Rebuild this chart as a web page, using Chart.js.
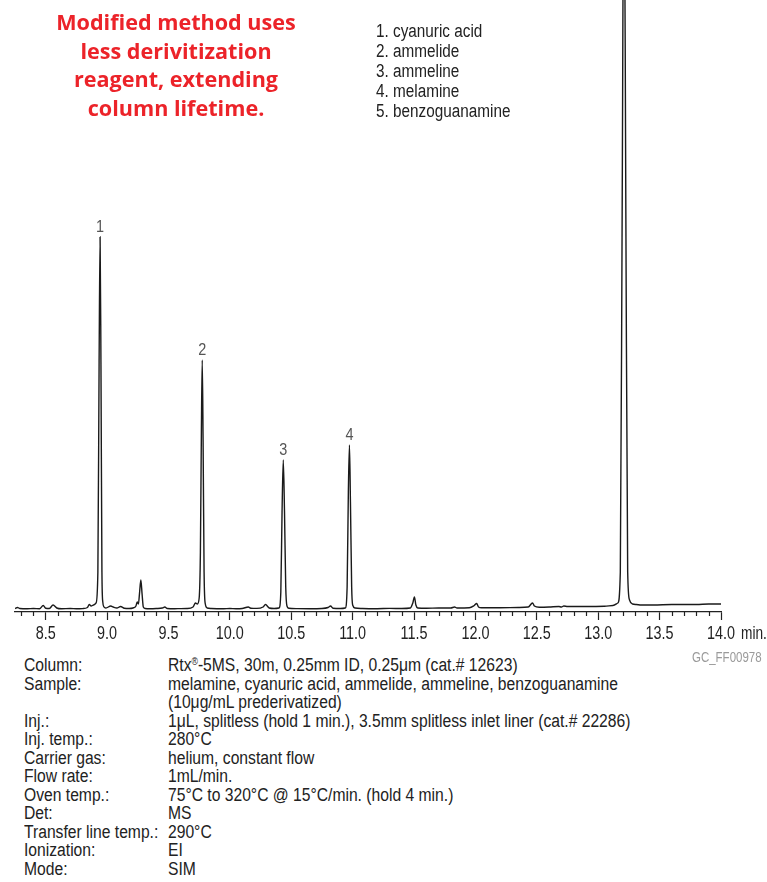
<!DOCTYPE html>
<html>
<head>
<meta charset="utf-8">
<script src="https://cdn.jsdelivr.net/npm/chart.js@4.4.1/dist/chart.umd.min.js"></script>
<style>
  body { margin: 0; background: #fff; width: 767px; height: 882px; position: relative; overflow: hidden;
         font-family: 'Liberation Sans', Arial, sans-serif; color: #222; }
  #chartBox { position: absolute; left: 0; top: 0; width: 767px; height: 650px; }
  .title { position: absolute; left: 0; top: 8px; width: 352px; text-align: center;
           font-family: 'Open Sans', 'Noto Sans', sans-serif; font-weight: 700; font-size: 21.6px;
           line-height: 28.7px; color: #ec2329; }
  .legend { position: absolute; left: 376px; top: 21px; font-size: 18px; line-height: 20px;
            transform: scaleX(0.85); transform-origin: 0 0; white-space: nowrap; }
  .footer { position: absolute; left: 24px; top: 656px; font-size: 18px; line-height: 18.55px;
            transform: scaleX(0.87); transform-origin: 0 0; }
  .footer .row { display: flex; white-space: nowrap; height: 18.55px; }
  .footer .lab { width: 165.5px; flex: none; }
  .footer sup { font-size: 10px; line-height: 0; vertical-align: 6px; }
  .code { position: absolute; left: 692px; top: 649px; font-size: 14px; color: #9a9a9a;
          transform: scaleX(0.82); transform-origin: 0 0; white-space: nowrap; }
  .unit { position: absolute; left: 741px; top: 623px; font-size: 18px;
          transform: scaleX(0.76); transform-origin: 0 0; }
</style>
</head>
<body>
<div id="chartBox"><canvas id="gc" width="767" height="650"></canvas></div>
<div class="title">Modified method uses<br>less derivitization<br>reagent, extending<br>column lifetime.</div>
<div class="legend" id="legend"></div>
<div class="unit">min.</div>
<div class="code">GC_FF00978</div>
<div class="footer" id="footer"></div>
<script>
// retention time (min) and detector signal
const times = [
  8.25, 8.27, 8.29, 8.35, 8.40, 8.45, 8.48, 8.50, 8.53, 8.56, 8.59, 8.63, 8.70, 8.75, 8.80, 8.84,
  8.855, 8.87, 8.89, 8.91, 8.925, 8.935, 8.943, 8.950, 8.958, 8.965, 8.975, 8.99, 9.03, 9.05, 9.08,
  9.11, 9.14, 9.18, 9.21, 9.235, 9.245, 9.255, 9.265, 9.275, 9.285, 9.295, 9.31, 9.35, 9.40, 9.45,
  9.47, 9.49, 9.55, 9.60, 9.65, 9.70, 9.72, 9.735, 9.75, 9.76, 9.768, 9.775, 9.782, 9.79, 9.80,
  9.815, 9.85, 9.95, 10.00, 10.05, 10.10, 10.15, 10.17, 10.22, 10.27, 10.29, 10.32, 10.36, 10.40,
  10.415, 10.425, 10.435, 10.445, 10.455, 10.465, 10.48, 10.55, 10.65, 10.75, 10.80, 10.82, 10.84,
  10.90, 10.94, 10.955, 10.965, 10.974, 10.982, 10.992, 11.00, 11.02, 11.08, 11.20, 11.30, 11.40,
  11.47, 11.49, 11.503, 11.515, 11.53, 11.60, 11.70, 11.80, 11.83, 11.85, 11.95, 11.99, 12.01,
  12.025, 12.05, 12.20, 12.35, 12.43, 12.465, 12.48, 12.52, 12.60, 12.68, 12.70, 12.72, 12.75,
  12.90, 13.05, 13.12, 13.16, 13.18, 13.195, 13.21, 13.225, 13.24, 13.255, 13.28, 13.31, 13.35,
  13.45, 13.60, 13.80, 13.90, 14.00
];
const signal = [
  3.5, 4.5, 3.5, 3.2, 3.5, 3.3, 6.5, 3.8, 3.5, 7, 4, 3.2, 3.5, 3.2, 3.4, 4.5,
  7.5, 6, 7, 9, 40, 250, 375, 250, 40, 10, 5, 4, 6, 5, 4,
  5.5, 3.8, 3.5, 4, 6, 10, 8, 20, 32, 18, 5, 3.5, 3.3, 3.5, 4,
  5, 3.5, 3.3, 3.4, 3.5, 5, 9, 8, 14, 60, 180, 252, 170, 40, 8,
  4, 3.5, 3.3, 3.5, 3.3, 3.5, 5, 3.8, 3.6, 5, 7.5, 4, 3.5, 4,
  20, 100, 152, 100, 25, 6, 3.8, 3.4, 3.3, 3.5, 4.5, 6, 3.8,
  3.5, 4, 25, 120, 167, 110, 25, 7, 4, 3.5, 3.3, 3.6, 3.5,
  4, 9, 15, 7, 4, 3.7, 4, 4, 5, 4, 4.2, 6.5, 8.5,
  5, 4.2, 4.3, 4.5, 5, 9, 6, 4.8, 5, 5.5, 5, 6, 5.5,
  5.5, 5.8, 6.5, 9, 40, 400, 800, 400, 40, 12, 8, 7.5, 7,
  7, 7.5, 7.5, 8, 8
];
const xTicks = [8.5, 9.0, 9.5, 10.0, 10.5, 11.0, 11.5, 12.0, 12.5, 13.0, 13.5, 14.0];
const xMinor = [8.3, 8.4, 8.6, 8.7, 8.8, 8.9, 9.1, 9.2, 9.3, 9.4, 9.6, 9.7, 9.8, 9.9, 10.1, 10.2, 10.3, 10.4,
  10.6, 10.7, 10.8, 10.9, 11.1, 11.2, 11.3, 11.4, 11.6, 11.7, 11.8, 11.9, 12.1, 12.2, 12.3, 12.4,
  12.6, 12.7, 12.8, 12.9, 13.1, 13.2, 13.3, 13.4, 13.6, 13.7, 13.8, 13.9];
const peakTimes = [8.943, 9.775, 10.435, 10.974];
const peakNumbers = ['1', '2', '3', '4'];
const compounds = ['cyanuric acid', 'ammelide', 'ammeline', 'melamine', 'benzoguanamine'];
const condLabels = ['Column:', 'Sample:', '', 'Inj.:', 'Inj. temp.:', 'Carrier gas:', 'Flow rate:',
  'Oven temp.:', 'Det:', 'Transfer line temp.:', 'Ionization:', 'Mode:'];
const condValues = ['Rtx<sup>®</sup>-5MS, 30m, 0.25mm ID, 0.25μm (cat.# 12623)',
  'melamine, cyanuric acid, ammelide, ammeline, benzoguanamine', '(10μg/mL prederivatized)',
  '1μL, splitless (hold 1 min.), 3.5mm splitless inlet liner (cat.# 22286)', '280°C',
  'helium, constant flow', '1mL/min.', '75°C to 320°C @ 15°C/min. (hold 4 min.)', 'MS', '290°C', 'EI', 'SIM'];

document.getElementById('legend').innerHTML = compounds.map((c, i) => (i + 1) + '. ' + c).join('<br>');
document.getElementById('footer').innerHTML = condLabels.map((l, i) =>
  '<div class="row"><span class="lab">' + l + '</span><span>' + condValues[i] + '</span></div>').join('');

const FONT = "'Liberation Sans', Arial, sans-serif";

const extras = {
  id: 'extras',
  afterDraw(chart) {
    const ctx = chart.ctx, xs = chart.scales.x, ys = chart.scales.y;
    ctx.save();
    ctx.strokeStyle = '#222';
    ctx.lineWidth = 1.2;
    xMinor.forEach(t => {
      const px = Math.round(xs.getPixelForValue(t)) + 0.5;
      ctx.beginPath();
      ctx.moveTo(px, xs.top);
      ctx.lineTo(px, xs.top + 4);
      ctx.stroke();
    });
    // condensed tick labels
    ctx.fillStyle = '#222';
    ctx.font = '18px ' + FONT;
    ctx.textAlign = 'center';
    ctx.textBaseline = 'middle';
    xTicks.forEach(t => {
      ctx.save();
      ctx.translate(xs.getPixelForValue(t), xs.top + 22);
      ctx.scale(0.8, 1);
      ctx.fillText(t.toFixed(1), 0, 0);
      ctx.restore();
    });
    ctx.fillStyle = '#555';
    ctx.font = '17px ' + FONT;
    ctx.textBaseline = 'bottom';
    peakTimes.forEach((t, i) => {
      const idx = times.indexOf(t);
      ctx.save();
      ctx.translate(xs.getPixelForValue(t), ys.getPixelForValue(signal[idx]) - 1);
      ctx.scale(0.85, 1);
      ctx.fillText(peakNumbers[i], 0, 0);
      ctx.restore();
    });
    ctx.restore();
  }
};

new Chart(document.getElementById('gc'), {
  type: 'line',
  data: {
    datasets: [{
      data: times.map((t, i) => ({ x: t, y: signal[i] })),
      borderColor: '#1a1a1a',
      borderWidth: 1.4,
      pointRadius: 0,
      fill: false,
      cubicInterpolationMode: 'monotone'
    }]
  },
  options: {
    responsive: false,
    animation: false,
    events: [],
    layout: { padding: { left: 15, right: 46, top: 0, bottom: 0 } },
    plugins: { legend: { display: false }, tooltip: { enabled: false } },
    scales: {
      x: {
        type: 'linear',
        min: 8.25,
        max: 14.0,
        afterBuildTicks: s => { s.ticks = xTicks.map(v => ({ value: v })); },
        afterFit: s => { s.height = 38; },
        ticks: { display: false },
        grid: { drawOnChartArea: false, drawTicks: true, tickLength: 8, tickColor: '#222', tickWidth: 1.2 },
        border: { display: true, color: '#222', width: 1.3 }
      },
      y: { display: false, min: 0, max: 612 }
    }
  },
  plugins: [extras]
});
</script>
</body>
</html>
